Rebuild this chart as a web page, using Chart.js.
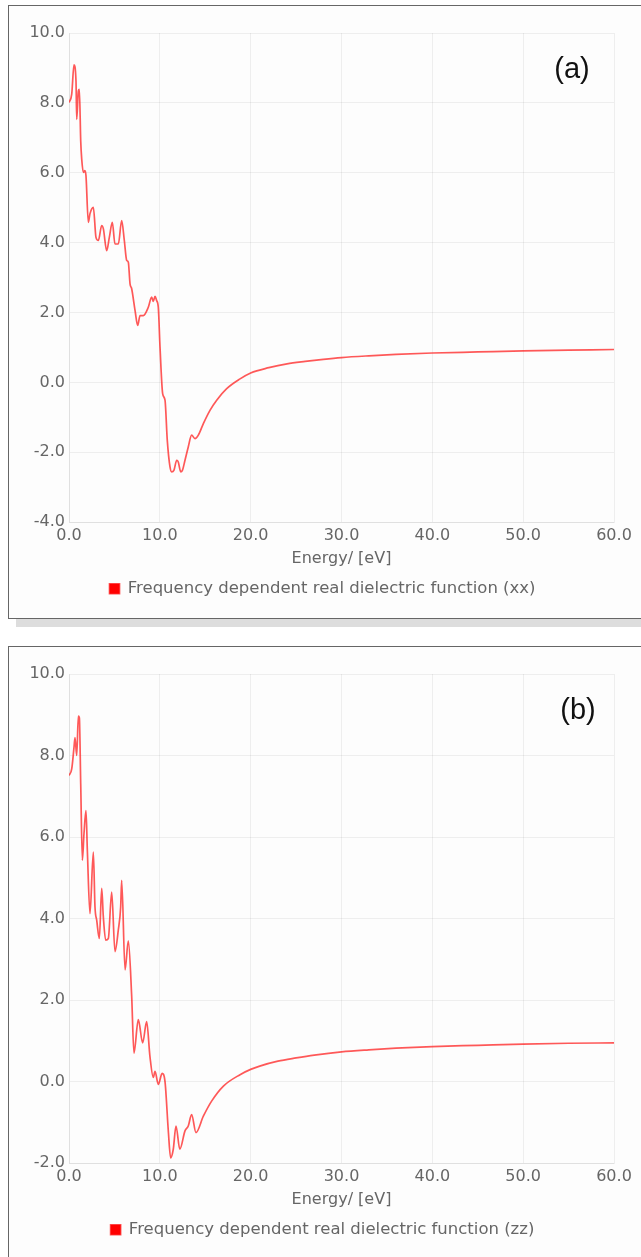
<!DOCTYPE html>
<html>
<head>
<meta charset="utf-8">
<title>Frequency dependent real dielectric function</title>
<script src="https://cdn.jsdelivr.net/npm/chart.js@4.4.0/dist/chart.umd.min.js"></script>
<style>
    body {
        margin: 0;
        background: #ffffff;
        width: 641px;
        height: 1257px;
        overflow: hidden;
        position: relative;
    }
    .panel {
        position: absolute;
        left: 8px;
        width: 640px;
        height: 614px;
        box-sizing: border-box;
        border: 1px solid #666666;
        background: #fdfdfd;
        box-shadow: 8px 8px 0 #dddddd;
    }
    .panel canvas {
        position: absolute;
        left: 0;
        top: 0;
    }
    .panel-label {
        position: absolute;
        font-family: "Liberation Sans", Arial, sans-serif;
        font-size: 29px;
        line-height: 1;
        color: #111111;
        transform: translate(-50%, -50%);
    }
</style>
</head>
<body>
<div class="panel" style="top:5px;">
    <canvas id="chartXX" width="638" height="612"></canvas>
    <div class="panel-label" style="left:563px; top:62px;">(a)</div>
</div>
<div class="panel" style="top:646px;">
    <canvas id="chartZZ" width="638" height="612"></canvas>
    <div class="panel-label" style="left:569px; top:62px;">(b)</div>
</div>
<script>
// Energy axis ticks
const energyTicks = [0, 10, 20, 30, 40, 50, 60];

// Panel (a): real part of the dielectric function, xx component
const energyXX = [
    0.0, 0.3, 0.55, 0.77, 0.85, 1.03, 1.14, 1.29, 1.4, 1.58, 1.76, 1.87,
    2.13, 2.31, 2.68, 2.97, 3.23, 3.6, 3.78, 4.15, 4.44, 4.77, 5.06, 5.43,
    5.8, 6.09, 6.35, 6.53, 6.72, 6.9, 7.27, 7.56, 7.82, 8.18, 8.73, 9.1,
    9.28, 9.47, 9.65, 9.83, 10.02, 10.31, 10.57, 10.82, 11.12, 11.3, 11.56, 11.86,
    12.03, 12.3, 12.47, 12.77, 13.13, 13.5, 13.87, 14.24, 14.79, 15.52, 16.26, 17.36,
    18.83, 20, 22, 24, 26, 28, 30, 33, 36, 40, 45, 50, 55, 60
];
const epsXX = [
    8.01, 8.25, 9.09, 8.63, 7.53, 8.34, 8.39, 6.91, 6.39, 6.01, 6.06, 5.91,
    4.58, 4.83, 5.01, 4.15, 4.06, 4.49, 4.40, 3.77, 4.15, 4.58, 3.96, 3.96,
    4.63, 4.06, 3.49, 3.44, 2.82, 2.68, 2.06, 1.63, 1.91, 1.91, 2.15, 2.44,
    2.32, 2.46, 2.34, 2.15, 1.01, -0.32, -0.51, -1.66, -2.42, -2.56, -2.51, -2.23,
    -2.28, -2.56, -2.53, -2.23, -1.85, -1.51, -1.61, -1.51, -1.18, -0.80, -0.51, -0.18,
    0.10, 0.27, 0.42, 0.53, 0.60, 0.66, 0.71, 0.76, 0.80, 0.84, 0.87, 0.90, 0.92, 0.94
];

// Panel (b): real part of the dielectric function, zz component
const energyZZ = [
    0.0, 0.3, 0.55, 0.66, 0.85, 1.03, 1.14, 1.29, 1.47, 1.65, 1.87, 2.02,
    2.31, 2.68, 2.86, 3.05, 3.34, 3.6, 3.78, 4.04, 4.33, 4.7, 5.06, 5.43,
    5.69, 5.8, 6.17, 6.53, 6.9, 7.15, 7.63, 8.11, 8.55, 8.91, 9.28, 9.47,
    9.83, 10.25, 10.57, 10.93, 11.19, 11.48, 11.78, 12.2, 12.77, 13.13, 13.5, 13.98,
    14.79, 15.7, 17.0, 18.83, 20, 21, 23, 25, 27, 30, 33, 36, 40, 45, 50, 55, 60
];
const epsZZ = [
    7.51, 7.67, 8.20, 8.44, 8.00, 8.97, 8.93, 7.30, 5.43, 6.08, 6.65, 5.67,
    4.12, 5.63, 4.29, 3.96, 3.51, 4.74, 4.04, 3.47, 3.51, 4.65, 3.19, 3.72,
    4.29, 4.94, 2.74, 3.45, 2.10, 0.70, 1.52, 0.95, 1.47, 0.62, 0.10, 0.25,
    -0.07, 0.20, 0.00, -1.20, -1.87, -1.66, -1.09, -1.66, -1.21, -1.09, -0.81, -1.25,
    -0.85, -0.48, -0.11, 0.17, 0.30, 0.38, 0.50, 0.58, 0.65, 0.73, 0.78, 0.82, 0.86, 0.89, 0.92, 0.94, 0.95
];

const textColor = '#666666';
const gridColor = 'rgba(0, 0, 0, 0.06)';
const fontFamily = '"DejaVu Sans", Verdana, sans-serif';

// Zip two arrays into {x, y} points for a linear x axis
function toPoints(xs, ys) {
    return xs.map((x, i) => ({ x: x, y: ys[i] }));
}

// Build one dielectric-function chart
function createDielectricChart(canvasId, label, energies, values, yMin) {
    const ctx = document.getElementById(canvasId).getContext('2d');

    return new Chart(ctx, {
        type: 'line',
        data: {
            datasets: [{
                label: label,
                data: toPoints(energies, values),
                borderColor: 'rgba(255, 0, 0, 0.65)',
                backgroundColor: '#ff0000',
                borderWidth: 1.7,
                pointRadius: 0,
                cubicInterpolationMode: 'monotone',
                fill: false
            }]
        },
        options: {
            responsive: false,
            animation: false,
            layout: {
                // left padding pushes the legend to the right like the original
                padding: { top: 27, right: 33, bottom: 11, left: 22 }
            },
            plugins: {
                legend: {
                    position: 'bottom',
                    labels: {
                        boxWidth: 10,
                        boxHeight: 10,
                        padding: 10,
                        color: textColor,
                        font: { family: fontFamily, size: 16.5 }
                    }
                },
                tooltip: { enabled: false }
            },
            scales: {
                x: {
                    type: 'linear',
                    min: energyTicks[0],
                    max: energyTicks[energyTicks.length - 1],
                    afterBuildTicks: scale => {
                        scale.ticks = energyTicks.map(v => ({ value: v }));
                    },
                    ticks: {
                        color: textColor,
                        padding: 4,
                        maxRotation: 0,
                        font: { family: fontFamily, size: 16 },
                        callback: v => Number(v).toFixed(1)
                    },
                    grid: { color: gridColor, drawTicks: false },
                    border: { color: gridColor },
                    title: {
                        display: true,
                        text: 'Energy/ [eV]',
                        color: textColor,
                        padding: { top: 0, bottom: 2 },
                        font: { family: fontFamily, size: 16 }
                    }
                },
                y: {
                    min: yMin,
                    max: 10,
                    afterFit: scale => {
                        scale.width = 38;
                    },
                    ticks: {
                        stepSize: 2,
                        color: textColor,
                        padding: 4,
                        font: { family: fontFamily, size: 16 },
                        callback: v => Number(v).toFixed(1)
                    },
                    grid: { color: gridColor, drawTicks: false },
                    border: { color: gridColor }
                }
            }
        }
    });
}

createDielectricChart('chartXX', 'Frequency dependent real dielectric function (xx)', energyXX, epsXX, -4);
createDielectricChart('chartZZ', 'Frequency dependent real dielectric function (zz)', energyZZ, epsZZ, -2);
</script>
</body>
</html>
